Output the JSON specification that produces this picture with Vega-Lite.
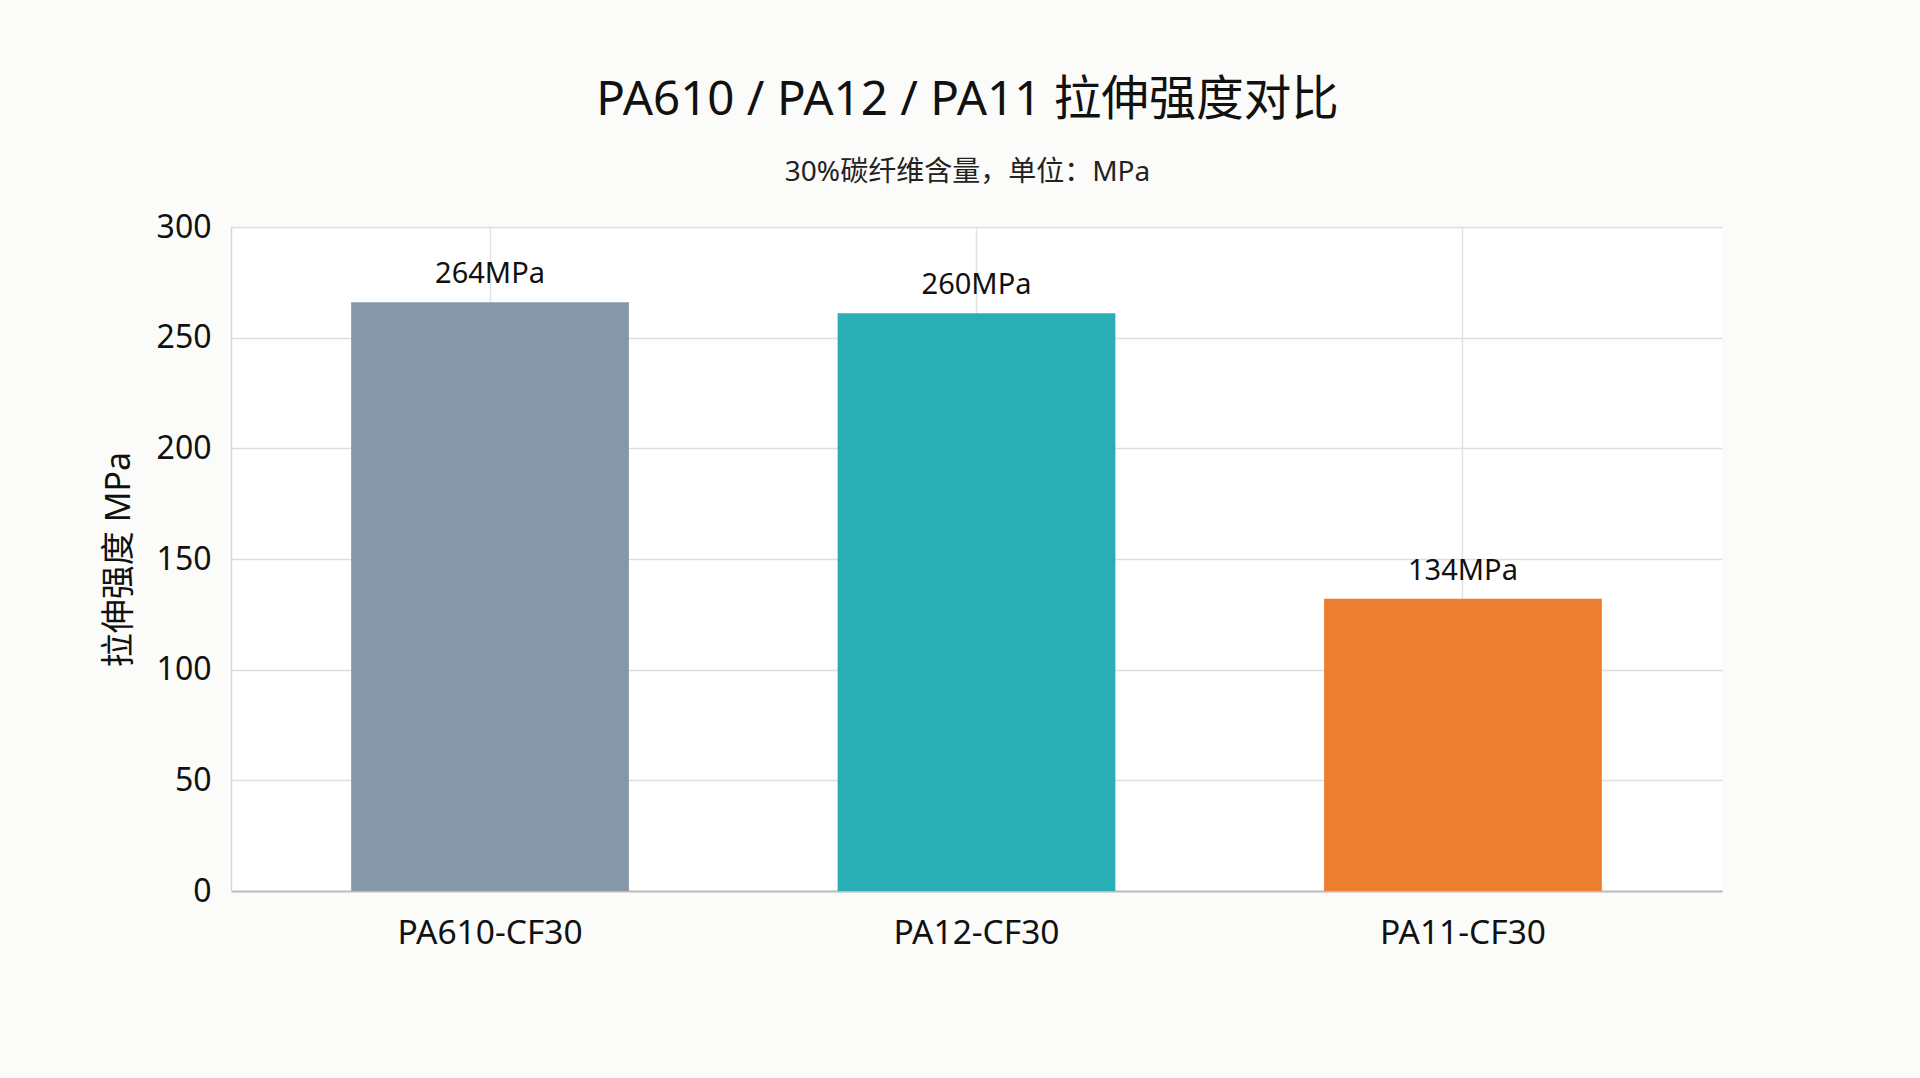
{
  "$schema": "https://vega.github.io/schema/vega-lite/v6.json",
  "autosize": {"type": "none"},
  "padding": {"left": 231, "top": 227, "right": 198, "bottom": 187},
  "width": 1491,
  "height": 664,
  "background": "#fbfbf9",
  "title": {
    "text": "PA610 / PA12 / PA11 拉伸强度对比",
    "subtitle": "30%碳纤维含量，单位：MPa",
    "anchor": "middle",
    "dx": -9,
    "fontSize": 47.5,
    "fontWeight": "normal",
    "color": "#111111",
    "subtitleFontSize": 28,
    "subtitleColor": "#222222",
    "subtitlePadding": 35,
    "offset": 24
  },
  "config": {
    "font": "'Noto Sans', 'Noto Sans CJK SC', sans-serif",
    "view": {"stroke": null, "fill": "#ffffff"}
  },
  "data": {
    "values": [
      {"grade": "PA610-CF30", "strength": 266, "label": "264MPa"},
      {"grade": "PA12-CF30", "strength": 261, "label": "260MPa"},
      {"grade": "PA11-CF30", "strength": 132, "label": "134MPa"}
    ]
  },
  "encoding": {
    "x": {
      "field": "grade",
      "type": "nominal",
      "sort": null,
      "title": null,
      "scale": {"paddingInner": 0.429, "paddingOuter": 0.247},
      "axis": {
        "labelAngle": 0,
        "labelFontSize": 33.5,
        "labelLimit": 400,
        "labelColor": "#111111",
        "labelPadding": 26,
        "ticks": false,
        "grid": true,
        "gridColor": "#e2e2e2",
        "gridWidth": 1.5,
        "domainColor": "#bdbdbd",
        "domainWidth": 2
      }
    },
    "y": {
      "field": "strength",
      "type": "quantitative",
      "title": "拉伸强度 MPa",
      "scale": {"domain": [0, 300]},
      "axis": {
        "values": [0, 50, 100, 150, 200, 250, 300],
        "labelFontSize": 32,
        "labelColor": "#111111",
        "labelPadding": 20,
        "ticks": false,
        "gridColor": "#dedede",
        "gridWidth": 1.5,
        "domainColor": "#d6d6d6",
        "domainWidth": 1.5,
        "titleFontSize": 34,
        "titleFontWeight": "normal",
        "titleColor": "#111111",
        "titlePadding": 20
      }
    }
  },
  "layer": [
    {
      "mark": {"type": "bar"},
      "encoding": {
        "color": {
          "field": "grade",
          "type": "nominal",
          "legend": null,
          "scale": {
            "domain": ["PA610-CF30", "PA12-CF30", "PA11-CF30"],
            "range": ["#8698a8", "#2aaeb6", "#ec7f2f"]
          }
        }
      }
    },
    {
      "mark": {
        "type": "text",
        "baseline": "alphabetic",
        "align": "center",
        "dy": -19,
        "fontSize": 29,
        "color": "#111111"
      },
      "encoding": {
        "text": {"field": "label", "type": "nominal"}
      }
    }
  ]
}
